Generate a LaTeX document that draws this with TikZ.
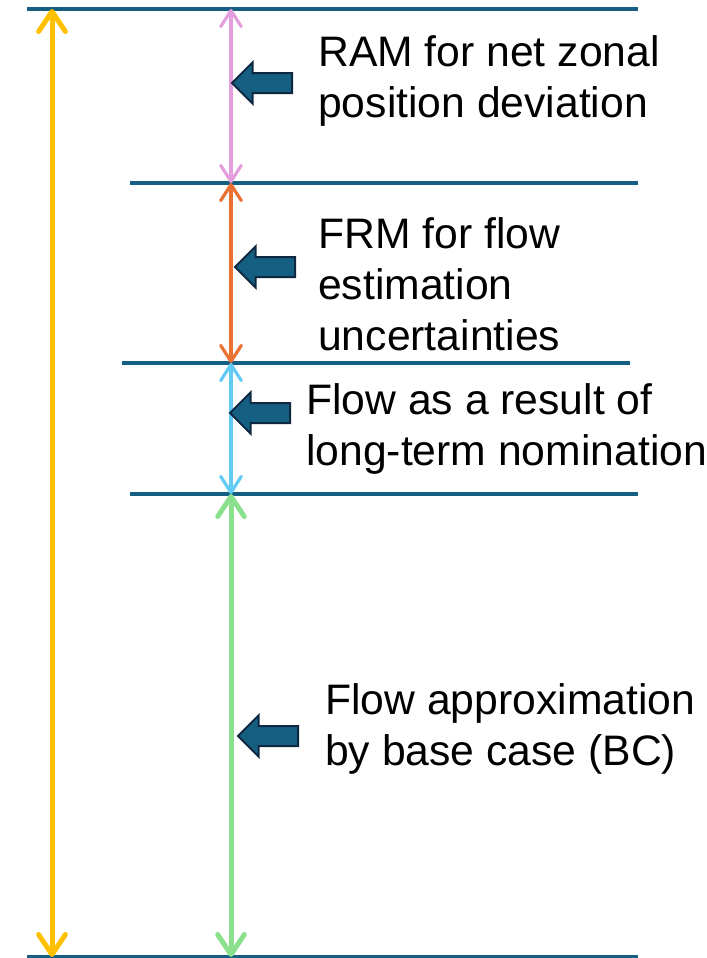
\documentclass[tikz,border=0pt]{standalone}
\usepackage{fontspec}
\setmainfont{Liberation Sans}
\usetikzlibrary{arrows.meta,shapes.arrows,positioning}
\definecolor{rule}{HTML}{156082}
\definecolor{ink}{HTML}{0E2841}
\definecolor{gold}{HTML}{FFC000}
\definecolor{rose}{HTML}{E59EDD}
\definecolor{amber}{HTML}{E97132}
\definecolor{sky}{HTML}{61CBF4}
\definecolor{mint}{HTML}{8BE08E}
\tikzset{
  bigtip/.tip={Straight Barb[length=15pt,width=20pt,round]},
  smalltip/.tip={Straight Barb[length=12pt,width=15.5pt,round]},
}

\begin{document}
\begin{tikzpicture}[x=0.75pt,y=-0.75pt,
    level/.style={draw=rule,line width=2.4pt},
    thick span/.style={draw=#1,line width=3.75pt,bigtip-bigtip},
    thin span/.style={draw=#1,line width=2.4pt,smalltip-smalltip},
    pointer/.style={single arrow,draw=ink,fill=rule,line width=1.5pt,
      inner xsep=0pt,inner ysep=6.75pt,outer sep=0pt,minimum height=45pt,
      single arrow head extend=7.9pt,shape border rotate=180,anchor=tip},
    note/.style={font=\fontsize{32}{38.3}\selectfont,align=left,
      inner sep=0pt,anchor=west}]
  \useasboundingbox (0,0) rectangle (707,958);

  % levels
  \coordinate (l0w) at (27,9);   \coordinate (l0e) at (638,9);
  \coordinate (l1w) at (130,183); \coordinate (l1e) at (638,183);
  \coordinate (l2w) at (122,363); \coordinate (l2e) at (630,363);
  \coordinate (l3w) at (130,494); \coordinate (l3e) at (638,494);
  \coordinate (l4w) at (27,957);  \coordinate (l4e) at (638,957);
  \foreach \i in {0,...,4}
    \draw[level] (l\i w) -- (l\i e);

  % margins
  \coordinate (m0) at (231,9);
  \coordinate (m1) at (231,183);
  \coordinate (m2) at (231,363);
  \coordinate (m3) at (231,494);
  \coordinate (m4) at (231,957);
  \coordinate (total top) at (52,9);
  \coordinate (total bottom) at (52,957);

  \draw[thick span=gold] (total top) -- (total bottom);
  \draw[thin span=rose] (m0) -- (m1);
  \draw[thin span=amber] (m1) -- (m2);
  \draw[thin span=sky] (m2) -- (m3);
  \draw[thick span=mint] (m3) -- (m4);

  % pointers and labels
  \node[pointer] (ram ptr) at (232,83) {};
  \node[pointer] (frm ptr) at (235,267) {};
  \node[pointer] (lt ptr) at (230,413) {};
  \node[pointer] (bc ptr) at (238,736) {};

  \node[note] (ram) at (318,81) {RAM for net zonal\\position deviation};
  \node[note] (frm) at (318,284) {FRM for flow\\estimation\\uncertainties};
  \node[note] (lt) at (306,429) {Flow as a result of\\long-term nomination};
  \node[note] (bc) at (325,729) {Flow approximation\\by base case (BC)};
\end{tikzpicture}
\end{document}
